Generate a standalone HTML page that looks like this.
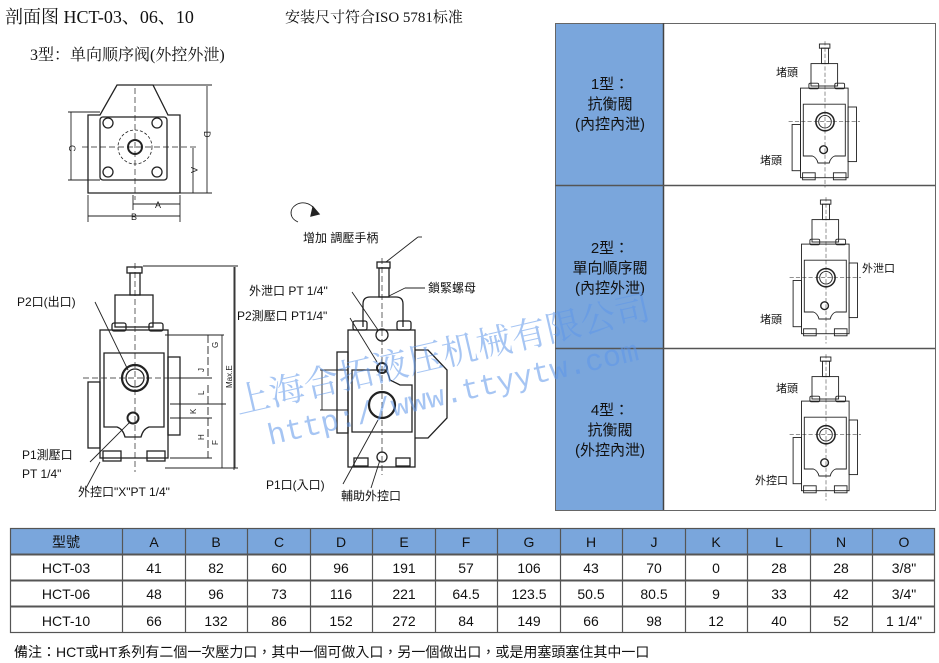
<!DOCTYPE html>
<html><head><meta charset="utf-8"><style>
html,body{margin:0;padding:0;background:#fff;}
body{width:939px;height:663px;overflow:hidden;position:relative;}
svg{position:absolute;left:0;top:0;}
.s{font-family:"Liberation Serif","Noto Serif CJK SC",serif;}
.a{font-family:"Liberation Sans","Noto Sans CJK TC",sans-serif;}
</style></head><body>
<svg width="939" height="663" viewBox="0 0 939 663" xmlns="http://www.w3.org/2000/svg">
<defs>
<g id="valve" fill="none" stroke="#222" stroke-width="1.3">
  <rect x="-8" y="0" width="15" height="6" fill="#fff"/>
  <rect x="-5" y="6" width="10" height="22"/>
  <rect x="-20" y="28" width="38" height="32"/>
  <rect x="-23" y="56" width="14" height="8" rx="2"/>
  <rect x="14" y="56" width="14" height="8" rx="2"/>
  <rect x="-35" y="63" width="68" height="128"/>
  <path d="M-31 86 H29 V160 H14 Q8 162 6 170 H-10 Q-12 162 -18 160 H-31 Z"/>
  <rect x="-47" y="115" width="12" height="66"/>
  <rect x="33" y="90" width="12" height="78"/>
  <circle cx="0" cy="111" r="13" stroke-width="2.2"/>
  <circle cx="0" cy="111" r="9"/>
  <circle cx="-2" cy="151" r="5.5" stroke-width="2"/>
  <rect x="-32" y="184" width="18" height="10"/>
  <rect x="12" y="184" width="18" height="10"/>
  <line x1="0" y1="-4" x2="0" y2="205" stroke-dasharray="6 3" stroke-width="0.7"/>
  <line x1="-52" y1="111" x2="50" y2="111" stroke-dasharray="6 3" stroke-width="0.7"/>
</g>
</defs>

<text x="5" y="23" class="s" font-size="18" fill="#111">剖面图 HCT-03、06、10</text>
<text x="285" y="22" class="s" font-size="15" fill="#111">安装尺寸符合ISO 5781标准</text>
<text x="30" y="60" class="s" font-size="16" fill="#111">3型：单向顺序阀(外控外泄)</text>

<g fill="none" stroke="#222" stroke-width="1.3">
  <path d="M117 85 H153 L168 115 H180 V193 H88 V115 H100 Z"/>
  <rect x="100" y="117" width="67" height="63" rx="3"/>
  <circle cx="135" cy="147" r="17" stroke-dasharray="3 2" stroke-width="0.8"/>
  <circle cx="135" cy="147" r="7" stroke-width="2"/>
  <circle cx="108" cy="123" r="5"/><circle cx="157" cy="123" r="5"/>
  <circle cx="108" cy="172" r="5"/><circle cx="157" cy="172" r="5"/>
  <line x1="135" y1="88" x2="135" y2="200" stroke-dasharray="6 3" stroke-width="0.7"/>
  <line x1="82" y1="147" x2="196" y2="147" stroke-dasharray="6 3" stroke-width="0.7"/>
  <g stroke-width="0.9">
   <line x1="207" y1="86" x2="207" y2="193"/><line x1="153" y1="85" x2="212" y2="85"/><line x1="180" y1="193" x2="212" y2="193"/>
   <line x1="193" y1="148" x2="193" y2="193"/>
   <line x1="133" y1="204" x2="180" y2="204"/><line x1="133" y1="195" x2="133" y2="210"/><line x1="180" y1="195" x2="180" y2="222"/>
   <line x1="88" y1="216" x2="180" y2="216"/><line x1="88" y1="195" x2="88" y2="222"/>
   <line x1="71" y1="112" x2="71" y2="180"/><line x1="68" y1="112" x2="100" y2="112"/><line x1="68" y1="180" x2="100" y2="180"/>
  </g>
</g>
<g class="a" font-size="9" fill="#222">
  <text x="203" y="138" transform="rotate(90 207 135)">D</text>
  <text x="190" y="172" transform="rotate(90 193 170)">A</text>
  <text x="155" y="208">A</text><text x="131" y="220">B</text>
  <text x="68" y="150" transform="rotate(90 71 148)">C</text>
</g>

<use href="#valve" x="135" y="267"/>
<g fill="none" stroke="#222" stroke-width="0.9">
  <line x1="235" y1="267" x2="235" y2="468"/><line x1="143" y1="266" x2="238" y2="266"/><line x1="165" y1="468" x2="238" y2="468"/>
  <line x1="222" y1="335" x2="222" y2="468"/><line x1="165" y1="335" x2="224" y2="335"/>
  <line x1="208" y1="335" x2="208" y2="378" stroke-dasharray="8 3"/>
  <line x1="208" y1="385" x2="208" y2="458" stroke-dasharray="8 3"/>
  <line x1="170" y1="378" x2="212" y2="378"/><line x1="170" y1="404" x2="226" y2="404"/><line x1="170" y1="418" x2="212" y2="418"/>
  <line x1="170" y1="458" x2="212" y2="458"/>
  <line x1="95" y1="302" x2="128" y2="370"/>
  <line x1="90" y1="462" x2="130" y2="422"/>
  <line x1="85" y1="490" x2="100" y2="462"/>
</g>
<g class="a" font-size="8" fill="#222">
  <text x="232" y="388" transform="rotate(-90 232 388)">Max.E</text>
  <text x="218" y="348" transform="rotate(-90 218 348)">G</text>
  <text x="204" y="372" transform="rotate(-90 204 372)">J</text>
  <text x="204" y="395" transform="rotate(-90 204 395)">L</text>
  <text x="196" y="414" transform="rotate(-90 196 414)">K</text>
  <text x="204" y="440" transform="rotate(-90 204 440)">H</text>
  <text x="218" y="445" transform="rotate(-90 218 445)">F</text>
</g>
<g class="a" font-size="12" fill="#111">
  <text x="17" y="306">P2口(出口)</text>
  <text x="22" y="459">P1測壓口</text>
  <text x="22" y="478">PT 1/4"</text>
  <text x="78" y="496">外控口"X"PT 1/4"</text>
</g>

<g fill="none" stroke="#222" stroke-width="1.3">
  <rect x="377" y="262" width="13" height="6"/>
  <rect x="379" y="268" width="10" height="29"/>
  <path d="M363 327 V304 Q363 297 370 297 H396 Q403 297 403 304 V327"/>
  <rect x="353" y="321" width="14" height="9" rx="2"/><rect x="397" y="321" width="14" height="9" rx="2"/>
  <rect x="348" y="330" width="67" height="137"/>
  <rect x="337" y="352" width="11" height="81"/>
  <path d="M415 350 H428 L447 370 V418 L428 438 H415"/>
  <path d="M352 370 H385 Q388 372 390 380 L400 385 H412 V432 H352 Z"/>
  <circle cx="382" cy="335" r="6"/>
  <circle cx="382" cy="368" r="5" stroke-width="2"/>
  <circle cx="382" cy="405" r="13" stroke-width="2.2"/>
  <circle cx="382" cy="457" r="5"/>
  <rect x="354" y="458" width="14" height="8"/><rect x="396" y="458" width="14" height="8"/>
  <line x1="382" y1="258" x2="382" y2="475" stroke-dasharray="6 3" stroke-width="0.7"/>
  <g stroke-width="0.9">
   <line x1="234" y1="267" x2="234" y2="470"/>
   <line x1="320" y1="370" x2="348" y2="370"/><line x1="320" y1="410" x2="348" y2="410"/><line x1="322" y1="370" x2="322" y2="410"/>
   <line x1="386" y1="262" x2="418" y2="237"/><line x1="418" y1="237" x2="422" y2="237"/>
   <line x1="389" y1="296" x2="405" y2="288"/><line x1="405" y1="288" x2="425" y2="288"/>
   <line x1="352" y1="292" x2="378" y2="330"/>
   <line x1="350" y1="318" x2="377" y2="362"/>
   <line x1="378" y1="420" x2="343" y2="484"/>
   <line x1="380" y1="460" x2="371" y2="488"/>
   <path d="M298 222 A12 10 0 1 1 315 212" />
  </g>
  <polygon points="313,207 319,214 311,216" fill="#222"/>
</g>
<g class="a" font-size="12" fill="#111">
  <text x="303" y="242">增加  調壓手柄</text>
  <text x="428" y="292">鎖緊螺母</text>
  <text x="249" y="295">外泄口 PT 1/4"</text>
  <text x="237" y="320">P2測壓口 PT1/4"</text>
  <text x="266" y="489">P1口(入口)</text>
  <text x="341" y="500">輔助外控口</text>
</g>

<rect x="555.5" y="23.5" width="380" height="487" fill="#fff" stroke="#666"/>
<rect x="556" y="24" width="107" height="486" fill="#7aa6dc"/>
<line x1="663.5" y1="23" x2="663.5" y2="510" stroke="#444" stroke-width="1.5"/>
<line x1="555" y1="185.5" x2="935" y2="185.5" stroke="#555" stroke-width="1.5"/>
<line x1="555" y1="348.5" x2="935" y2="348.5" stroke="#555" stroke-width="1.5"/>
<g class="a" font-size="15" fill="#111" text-anchor="middle">
  <text x="610" y="89">1型：</text><text x="610" y="109">抗衡閥</text><text x="610" y="129">(內控內泄)</text>
  <text x="610" y="253">2型：</text><text x="610" y="273">單向順序閥</text><text x="610" y="293">(內控外泄)</text>
  <text x="610" y="415">4型：</text><text x="610" y="435">抗衡閥</text><text x="610" y="455">(外控內泄)</text>
</g>
<use href="#valve" transform="translate(825 44) scale(0.7)"/>
<use href="#valve" transform="translate(826 200) scale(0.7)"/>
<use href="#valve" transform="translate(826 357) scale(0.7)"/>
<g class="a" font-size="11" fill="#111">
  <text x="776" y="76">堵頭</text><text x="760" y="164">堵頭</text>
  <text x="862" y="272">外泄口</text><text x="760" y="323">堵頭</text>
  <text x="776" y="392">堵頭</text><text x="755" y="484">外控口</text>
</g>

<g>
  <rect x="10" y="528" width="925" height="26" fill="#7aa6dc"/>
  <g stroke="#555" stroke-width="1.2" fill="none">
    <rect x="10.5" y="528.5" width="924" height="104"/>
    <line x1="10" y1="554.5" x2="935" y2="554.5" stroke-width="2"/>
    <line x1="10" y1="580.5" x2="935" y2="580.5" stroke-width="2"/>
    <line x1="10" y1="606.5" x2="935" y2="606.5" stroke-width="2"/>
    <line x1="122.5" y1="528" x2="122.5" y2="633"/><line x1="185.5" y1="528" x2="185.5" y2="633"/>
    <line x1="247.5" y1="528" x2="247.5" y2="633"/><line x1="310.5" y1="528" x2="310.5" y2="633"/>
    <line x1="372.5" y1="528" x2="372.5" y2="633"/><line x1="435.5" y1="528" x2="435.5" y2="633"/>
    <line x1="497.5" y1="528" x2="497.5" y2="633"/><line x1="560.5" y1="528" x2="560.5" y2="633"/>
    <line x1="622.5" y1="528" x2="622.5" y2="633"/><line x1="685.5" y1="528" x2="685.5" y2="633"/>
    <line x1="747.5" y1="528" x2="747.5" y2="633"/><line x1="810.5" y1="528" x2="810.5" y2="633"/>
    <line x1="872.5" y1="528" x2="872.5" y2="633"/>
  </g>
  <g class="a" font-size="14" fill="#111" text-anchor="middle">
    <text x="66" y="547">型號</text><text x="154" y="547">A</text><text x="216" y="547">B</text><text x="279" y="547">C</text><text x="341" y="547">D</text><text x="404" y="547">E</text><text x="466" y="547">F</text><text x="529" y="547">G</text><text x="591" y="547">H</text><text x="654" y="547">J</text><text x="716" y="547">K</text><text x="779" y="547">L</text><text x="841" y="547">N</text><text x="904" y="547">O</text>
    <text x="66" y="573">HCT-03</text><text x="154" y="573">41</text><text x="216" y="573">82</text><text x="279" y="573">60</text><text x="341" y="573">96</text><text x="404" y="573">191</text><text x="466" y="573">57</text><text x="529" y="573">106</text><text x="591" y="573">43</text><text x="654" y="573">70</text><text x="716" y="573">0</text><text x="779" y="573">28</text><text x="841" y="573">28</text><text x="904" y="573">3/8"</text>
    <text x="66" y="599">HCT-06</text><text x="154" y="599">48</text><text x="216" y="599">96</text><text x="279" y="599">73</text><text x="341" y="599">116</text><text x="404" y="599">221</text><text x="466" y="599">64.5</text><text x="529" y="599">123.5</text><text x="591" y="599">50.5</text><text x="654" y="599">80.5</text><text x="716" y="599">9</text><text x="779" y="599">33</text><text x="841" y="599">42</text><text x="904" y="599">3/4"</text>
    <text x="66" y="626">HCT-10</text><text x="154" y="626">66</text><text x="216" y="626">132</text><text x="279" y="626">86</text><text x="341" y="626">152</text><text x="404" y="626">272</text><text x="466" y="626">84</text><text x="529" y="626">149</text><text x="591" y="626">66</text><text x="654" y="626">98</text><text x="716" y="626">12</text><text x="779" y="626">40</text><text x="841" y="626">52</text><text x="904" y="626">1 1/4"</text>
  </g>
  <text x="14" y="657" class="a" font-size="14" fill="#111">備注：HCT或HT系列有二個一次壓力口，其中一個可做入口，另一個做出口，或是用塞頭塞住其中一口</text>
</g>

<g fill="#5c95ea" fill-opacity="0.55">
  <text x="238" y="414" transform="rotate(-13 238 414)" font-family="Noto Serif CJK SC, serif" font-size="35" textLength="425">上海合拓液压机械有限公司</text>
  <text x="270" y="445" transform="rotate(-13 270 445)" font-family="Liberation Mono, monospace" font-size="30" textLength="380">http://www.ttyytw.com</text>
</g>
</svg>
</body></html>
